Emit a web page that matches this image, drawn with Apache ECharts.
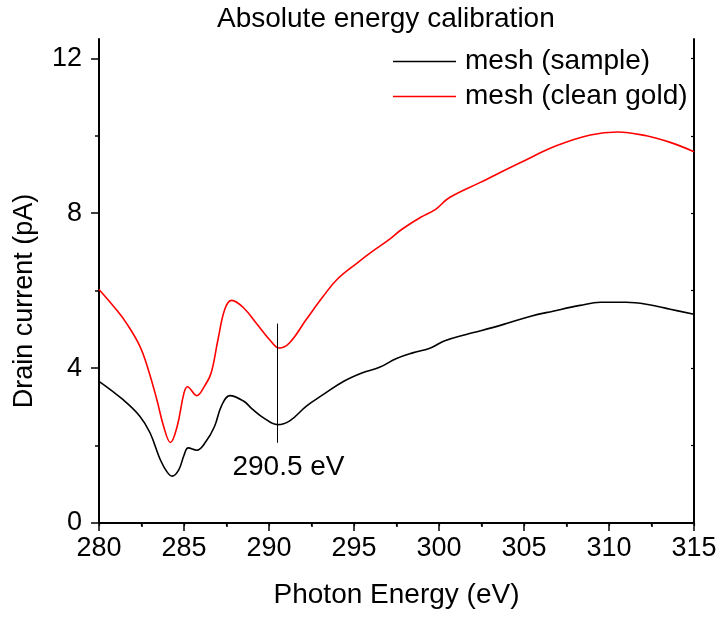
<!DOCTYPE html>
<html>
<head>
<meta charset="utf-8">
<title>Absolute energy calibration</title>
<script src="https://cdn.jsdelivr.net/npm/echarts@6/dist/echarts.min.js"></script>
<style>
  html, body { margin: 0; padding: 0; background: #fff; }
  #chart { width: 721px; height: 619px; }
</style>
</head>
<body>
<div id="chart"></div>
<script>
// Photon energy (eV) and drain current (pA) for the mesh measured on the sample
const sampleEnergy = [280.0, 281.4, 282.4, 283.0, 283.6, 284.0, 284.3, 284.7, 285.0, 285.25,
  285.75, 286.3, 286.8, 287.2, 287.7, 288.5, 289.0, 289.7, 290.5, 291.2,
  292.2, 293.2, 294.4, 295.5, 296.5, 297.5, 298.5, 299.5, 300.3, 301.6,
  302.4, 303.8, 305.4, 306.7, 308.3, 309.5, 311.0, 312.2, 313.6, 315.0];
const sampleCurrent = [3.66, 3.19, 2.76, 2.33, 1.64, 1.32, 1.21, 1.38, 1.75, 1.94,
  1.88, 2.11, 2.50, 3.02, 3.29, 3.15, 2.95, 2.71, 2.54, 2.63,
  3.02, 3.32, 3.66, 3.88, 4.02, 4.25, 4.40, 4.52, 4.70, 4.87,
  4.96, 5.13, 5.34, 5.47, 5.62, 5.70, 5.70, 5.65, 5.52, 5.39];

// Same mesh on clean gold
const goldEnergy = [280.0, 281.0, 281.6, 282.4, 282.9, 283.4, 283.8, 284.2, 284.6, 285.0,
  285.2, 285.75, 286.2, 286.6, 287.0, 287.4, 287.8, 288.5, 289.3, 290.1,
  290.6, 291.2, 292.2, 293.2, 294.0, 295.2, 296.1, 297.1, 297.8, 298.9,
  299.8, 300.6, 302.4, 304.8, 306.9, 308.9, 310.5, 312.2, 313.6, 315.0];
const goldCurrent = [6.03, 5.52, 5.17, 4.57, 3.96, 3.19, 2.50, 2.08, 2.50, 3.36,
  3.52, 3.29, 3.53, 3.88, 4.74, 5.52, 5.75, 5.56, 5.13, 4.70,
  4.52, 4.65, 5.26, 5.86, 6.29, 6.72, 7.02, 7.33, 7.58, 7.89,
  8.10, 8.40, 8.79, 9.31, 9.74, 10.02, 10.10, 10.00, 9.83, 9.59];

// Calibration marker: energy and vertical extent of the marker segment
const markEnergy = 290.5;
const markRange = [2.07, 5.15];

// Axis ticks
const yMajorTicks = [0, 4, 8, 12];
const yMinorTicks = [2, 6, 10];
const yFrameTicks = [0, 2, 4, 6, 8, 10, 12];

const FONT = '"Liberation Sans", Arial, Helvetica, sans-serif';

const pairs = (xs, ys) => xs.map((x, i) => [x, ys[i]]);

const chart = echarts.init(document.getElementById('chart'), null, { renderer: 'canvas' });

const baseX = { type: 'value', min: 280, max: 315, interval: 5 };
const baseY = { type: 'value', min: 0, max: 12.5 };

chart.setOption({
  animation: false,
  backgroundColor: '#fff',
  title: {
    text: 'Absolute energy calibration',
    left: 212, top: 0,
    textStyle: { fontFamily: FONT, fontSize: 28, fontWeight: 'normal', color: '#000' }
  },
  legend: {
    orient: 'vertical',
    left: 388, top: 42,
    itemWidth: 63, itemHeight: 1.6, itemGap: 6,
    textStyle: { fontFamily: FONT, fontSize: 28, color: '#000', lineHeight: 29, padding: [0, 0, 0, 4] },
    data: [
      { name: 'mesh (sample)', icon: 'rect' },
      { name: 'mesh (clean gold)', icon: 'rect' }
    ]
  },
  grid: { left: 99, right: 27, top: 39, bottom: 96, containLabel: false },
  xAxis: [
    Object.assign({}, baseX, {
      position: 'bottom',
      name: 'Photon Energy (eV)',
      nameLocation: 'middle',
      nameGap: 58,
      nameTextStyle: { fontFamily: FONT, fontSize: 28, color: '#000' },
      axisLine: { lineStyle: { color: '#000', width: 2 } },
      axisTick: { inside: false, length: 8, lineStyle: { color: '#000', width: 1.5 } },
      minorTick: { show: true, splitNumber: 2, length: 4, lineStyle: { color: '#000', width: 1.5 } },
      axisLabel: { margin: 12, fontFamily: FONT, fontSize: 27, color: '#000' },
      splitLine: { show: false }
    }),
    Object.assign({}, baseX, {
      position: 'top',
      interval: 2.5,
      axisLine: { lineStyle: { color: '#000', width: 2 } },
      axisTick: { inside: true, length: 3, lineStyle: { color: '#000', width: 1.2 } },
      axisLabel: { show: false },
      splitLine: { show: false }
    })
  ],
  yAxis: [
    Object.assign({}, baseY, {
      position: 'left',
      axisLine: { lineStyle: { color: '#000', width: 2 } },
      axisTick: { inside: false, length: 8, customValues: yMajorTicks, lineStyle: { color: '#000', width: 1.5 } },
      axisLabel: { margin: 17, customValues: yMajorTicks, fontFamily: FONT, fontSize: 27, color: '#000' },
      splitLine: { show: false }
    }),
    Object.assign({}, baseY, {
      position: 'left',
      axisLine: { show: false },
      axisTick: { inside: false, length: 4, customValues: yMinorTicks, lineStyle: { color: '#000', width: 1.5 } },
      axisLabel: { show: false },
      splitLine: { show: false }
    }),
    Object.assign({}, baseY, {
      position: 'right',
      axisLine: { lineStyle: { color: '#000', width: 2 } },
      axisTick: { inside: true, length: 3, customValues: yFrameTicks, lineStyle: { color: '#000', width: 1.2 } },
      axisLabel: { show: false },
      splitLine: { show: false }
    })
  ],
  graphic: [{
    type: 'text',
    x: 25, y: 301,
    rotation: Math.PI / 2,
    style: {
      text: 'Drain current (pA)',
      font: '27px ' + FONT,
      fill: '#000',
      align: 'center',
      verticalAlign: 'middle'
    }
  }],
  series: [
    {
      name: 'mesh (sample)',
      type: 'line',
      data: pairs(sampleEnergy, sampleCurrent),
      smooth: 0.4,
      symbol: 'none',
      lineStyle: { color: '#000', width: 1.6 },
      itemStyle: { color: '#000' },
      markLine: {
        silent: true,
        symbol: ['none', 'none'],
        lineStyle: { color: '#000', width: 1, type: 'solid' },
        label: {
          show: true,
          position: 'start',
          distance: 10,
          formatter: markEnergy + ' eV',
          fontFamily: FONT, fontSize: 28, color: '#000',
          padding: [0, 0, 0, 22]
        },
        data: [[{ coord: [markEnergy, markRange[0]] }, { coord: [markEnergy, markRange[1]] }]]
      }
    },
    {
      name: 'mesh (clean gold)',
      type: 'line',
      data: pairs(goldEnergy, goldCurrent),
      smooth: 0.4,
      symbol: 'none',
      lineStyle: { color: '#ff0000', width: 1.6 },
      itemStyle: { color: '#ff0000' }
    }
  ]
});
</script>
</body>
</html>
